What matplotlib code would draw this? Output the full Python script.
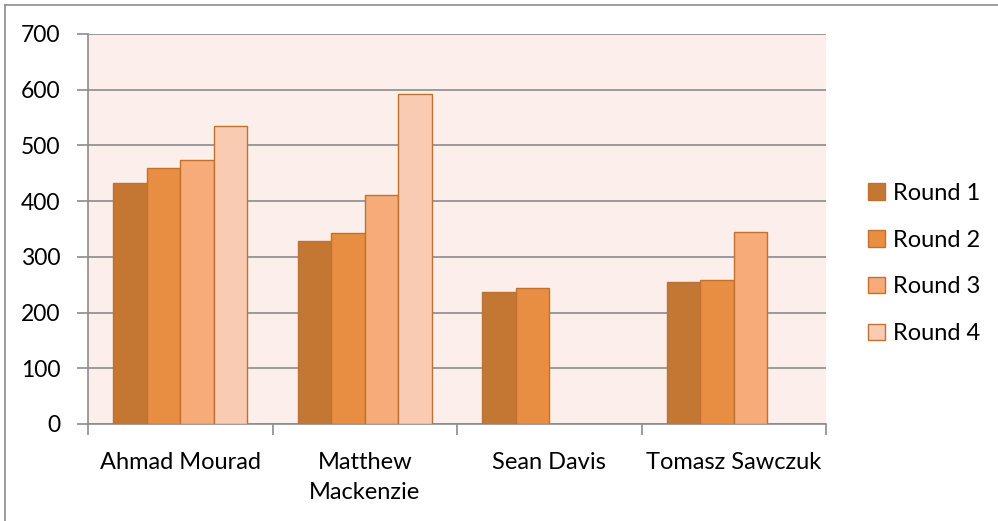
import matplotlib
matplotlib.use('Agg')
import matplotlib.pyplot as plt
from matplotlib.lines import Line2D
import numpy as np

plt.rcParams['font.family'] = ['Lato', 'DejaVu Sans']

# data
players = ['Ahmad Mourad', 'Matthew\nMackenzie', 'Sean Davis', 'Tomasz Sawczuk']
series_names = ['Round 1', 'Round 2', 'Round 3', 'Round 4']
round1 = [433, 328, 237, 255]
round2 = [459, 342, 245, 258]
round3 = [473, 411, np.nan, 344]
round4 = [535, 592, np.nan, np.nan]
y_ticks = [0, 100, 200, 300, 400, 500, 600, 700]

colors = ['#C47733', '#E88E42', '#F7AB78', '#F9CBB3']
edge = '#C0712F'
grid_gray = '#8C8C8C'
FS = 17

W, H = 998, 521
fig = plt.figure(figsize=(W / 100, H / 100), dpi=100)
ax = fig.add_axes([88 / W, (H - 424) / H, (826 - 88) / W, (424 - 34) / H])
ax.set_facecolor('#FCEEEA')

x = np.arange(len(players))
w = 1 / 5.5
for i, (vals, name) in enumerate(zip([round1, round2, round3, round4], series_names)):
    ax.bar(x + (i - 1.5) * w, vals, width=w, color=colors[i], edgecolor=edge,
           linewidth=1.0, label=name, zorder=3)

ax.set_xlim(-0.5, len(players) - 0.5)
ax.set_ylim(0, 700)
ax.set_yticks(y_ticks)
ax.yaxis.grid(True, color=grid_gray, linewidth=1.2, zorder=1)
ax.set_axisbelow(True)

ax.set_xticks(np.arange(-0.5, len(players)), minor=False)
ax.set_xticklabels([])
ax.set_xticks(x, minor=True)
ax.set_xticklabels(players, minor=True, fontsize=FS, linespacing=1.55)
ax.tick_params(axis='x', which='minor', length=0, pad=20)
ax.tick_params(axis='x', which='major', length=8, color=grid_gray, width=1.2)
ax.tick_params(axis='y', length=8, color=grid_gray, width=1.2, pad=12, labelsize=16.5)

for s in ['top', 'right']:
    ax.spines[s].set_visible(False)
for s in ['left', 'bottom']:
    ax.spines[s].set_color(grid_gray)
    ax.spines[s].set_linewidth(1.2)

leg = fig.legend(loc='center left', bbox_to_anchor=(868 / W, (H - 263.5) / H),
                 frameon=False, fontsize=FS, handlelength=0.7, handleheight=0.7,
                 handletextpad=0.35, labelspacing=1.1, borderpad=0, borderaxespad=0)

# outer chart border (top and left only visible)
fig.add_artist(Line2D([5 / W, 1], [(H - 4.5) / H] * 2, color=grid_gray, lw=1.2))
fig.add_artist(Line2D([5 / W] * 2, [0, (H - 4.5) / H], color=grid_gray, lw=1.2))

fig.savefig('out.png', dpi=100)
